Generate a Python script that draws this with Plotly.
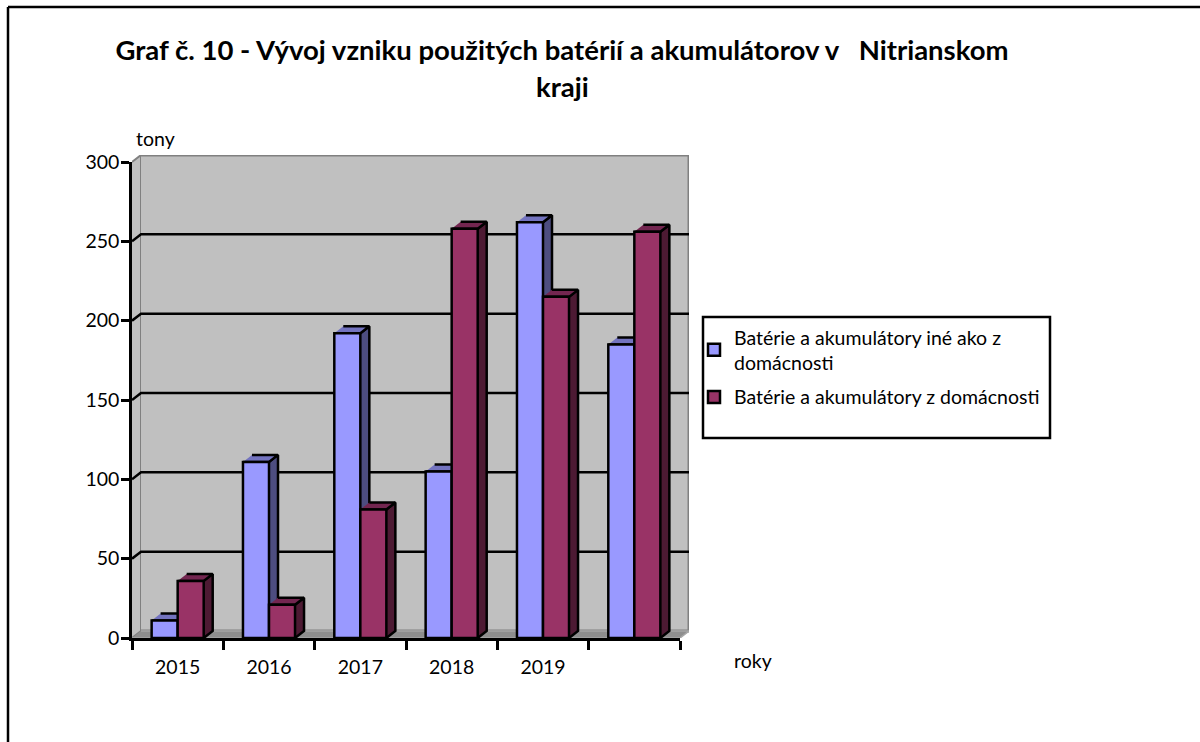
import plotly.graph_objects as go

categories = ["2015", "2016", "2017", "2018", "2019", " "]
other_batteries = [11, 111, 192, 105, 262, 185]
household_batteries = [36, 21, 81, 258, 215, 256]
y_ticks = [0, 50, 100, 150, 200, 250, 300]
series_names = ["Batérie a akumulátory iné ako z<br>domácnosti", "Batérie a akumulátory z domácnosti"]

W, H = 1200, 742
# plot frame in page pixels
L, R, B, T = 132, 680, 638, 162
DXPX, DYPX = 9, 7
BLUE, BLUE_TOP, BLUE_SIDE = "#9999FF", "#7373BF", "#4D4D80"
MAR, MAR_TOP, MAR_SIDE = "#993366", "#732650", "#4D1A33"
WALL, EDGE, FLOOR = "#C0C0C0", "#808080", "#8E8E8E"
FONT = "Lato"
LW = 2.5

def fx(px): return px / W
def fy(py): return 1 - py / H

n = len(categories)
unit_x = (R - L) / n
unit_y = (B - T) / 300
dx = DXPX / unit_x
dy = DYPX / unit_y
bargap = 0.43
bw = (1 - bargap) / 2
xmin, xmax = -0.5, n - 0.5

fig = go.Figure()

def poly(xs, ys, fill, line, lw):
    fig.add_trace(go.Scatter(x=xs, y=ys, mode="lines", fill="toself", fillcolor=fill,
                             line=dict(color=line, width=lw), hoverinfo="skip", showlegend=False,
                             xaxis="x", yaxis="y"))

# walls and floor
poly([xmin, xmin + dx, xmin + dx, xmin], [0, dy, 300 + dy, 300], WALL, EDGE, 2)
poly([xmin + dx, xmax + dx, xmax + dx, xmin + dx], [dy, dy, 300 + dy, 300 + dy], WALL, EDGE, 3)
poly([xmin, xmax, xmax + dx, xmin + dx], [0, 0, dy, dy], FLOOR, "#A6A6A6", 1.5)

# gridlines across the back wall with the short diagonal on the side wall
gx, gy = [], []
for v in y_ticks[1:-1]:
    gx += [xmin, xmin + dx, xmax + dx, None]
    gy += [v, v + dy, v + dy, None]
fig.add_trace(go.Scatter(x=gx, y=gy, mode="lines", line=dict(color="black", width=LW),
                         hoverinfo="skip", showlegend=False, xaxis="x", yaxis="y"))

def faces(values, offset, top_c, side_c):
    for i, v in enumerate(values):
        x0 = i - bw + offset
        x1 = i + offset
        poly([x1, x1 + dx, x1 + dx, x1], [0, dy, v + dy, v], side_c, "black", LW)
        poly([x0, x1, x1 + dx, x0 + dx], [v, v, v + dy, v + dy], top_c, "black", LW)

faces(other_batteries, 0, BLUE_TOP, BLUE_SIDE)
faces(household_batteries, bw, MAR_TOP, MAR_SIDE)

# front faces
for name, vals, col, grp in [(series_names[0], other_batteries, BLUE, "a"),
                             (series_names[1], household_batteries, MAR, "b")]:
    fig.add_trace(go.Bar(x=categories, y=vals, name=name, marker=dict(color=col, line=dict(color="black", width=LW)),
                         xaxis="x2", yaxis="y2", legendgroup=grp, hoverinfo="skip"))

frame_shapes = [
    dict(type="line", xref="paper", yref="paper", x0=fx(8), x1=fx(8), y0=fy(7), y1=fy(742), line=dict(color="black", width=LW)),
    dict(type="line", xref="paper", yref="paper", x0=fx(8), x1=fx(1200), y0=fy(7), y1=fy(7), line=dict(color="black", width=LW)),
    dict(type="rect", xref="paper", yref="paper", x0=fx(703), x1=fx(1050), y0=fy(317), y1=fy(438),
         line=dict(color="black", width=LW), fillcolor="white", layer="below"),
]

axis_font = dict(family=FONT, size=19.5, color="black")
fig.update_layout(
    width=W, height=H, autosize=False, margin=dict(l=0, r=0, t=0, b=0, autoexpand=False),
    paper_bgcolor="white", plot_bgcolor="rgba(0,0,0,0)",
    barmode="group", bargap=bargap, bargroupgap=0,
    font=dict(family=FONT, color="black"),
    title=dict(text="<b>Graf č. 10 - Vývoj vzniku použitých batérií a akumulátorov v   Nitrianskom</b>",
               x=fx(562), xanchor="center", xref="paper", y=fy(50), yanchor="middle", yref="container",
               font=dict(family=FONT, size=27.5, color="black")),
    xaxis=dict(domain=[fx(L), fx(R + DXPX)], range=[xmin, xmax + dx], visible=False, fixedrange=True),
    yaxis=dict(domain=[fy(B), fy(T - DYPX)], range=[0, 300 + dy], visible=False, fixedrange=True),
    xaxis2=dict(domain=[fx(L), fx(R)], anchor="y2", type="category", categoryorder="array", categoryarray=categories,
                range=[xmin, xmax], tickson="boundaries", ticks="outside", ticklen=9, tickwidth=LW, tickcolor="black",
                showline=True, linecolor="black", linewidth=LW, showgrid=False, zeroline=False,
                tickfont=axis_font, fixedrange=True, ticklabelstandoff=10),
    yaxis2=dict(domain=[fy(B), fy(T)], anchor="x2", range=[0, 300], tickvals=y_ticks, ticks="outside", ticklen=8,
                tickwidth=LW, tickcolor="black", showline=True, linecolor="black", linewidth=LW, showgrid=False,
                zeroline=False, tickfont=axis_font, fixedrange=True, ticklabelstandoff=-2),
    legend=dict(x=fx(694), xanchor="left", y=fy(318), yanchor="top", bgcolor="rgba(0,0,0,0)",
                font=dict(family=FONT, size=19.5, color="black"), tracegroupgap=6, traceorder="grouped",
                itemwidth=30, borderwidth=0),
    shapes=frame_shapes,
    annotations=[
        dict(text="<b>kraji</b>", x=fx(562), y=fy(87), xref="paper", yref="paper", showarrow=False,
             font=dict(family=FONT, size=27.5, color="black"), xanchor="center", yanchor="middle"),
        dict(text="tony", x=fx(155), y=fy(138), xref="paper", yref="paper", showarrow=False,
             font=axis_font, xanchor="center", yanchor="middle"),
        dict(text="roky", x=fx(753), y=fy(660), xref="paper", yref="paper", showarrow=False,
             font=axis_font, xanchor="center", yanchor="middle"),
    ],
)
fig.write_html("out.html", config=dict(displayModeBar=False),
               post_script="document.body.style.margin='0';document.documentElement.style.overflow='hidden';")
